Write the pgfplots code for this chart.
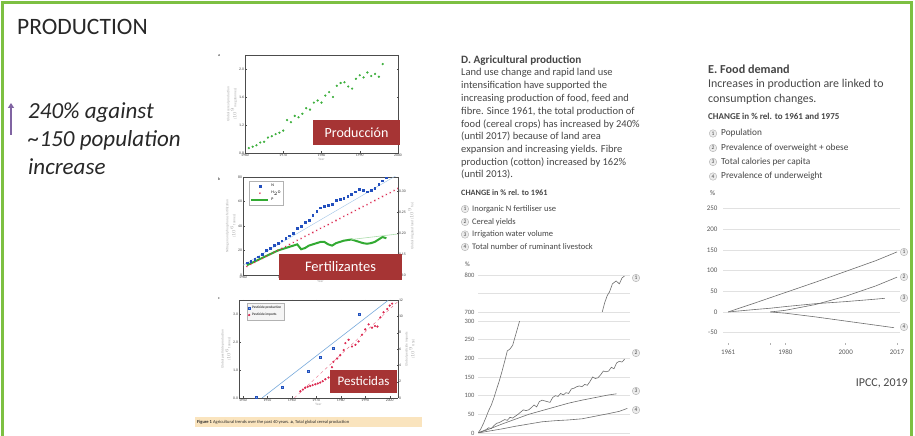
\documentclass[border=0pt]{standalone}
\usepackage{pgfplots}
\pgfplotsset{compat=1.18}
\usepackage{fontspec}
\setmainfont{Carlito}
\usetikzlibrary{arrows.meta}
\definecolor{frame}{RGB}{125,192,66}
\definecolor{arrowpurple}{RGB}{128,100,162}
\definecolor{labelred}{RGB}{166,52,52}
\definecolor{ptgreen}{RGB}{60,175,60}
\definecolor{nblue}{RGB}{35,80,190}
\definecolor{irrred}{RGB}{220,40,80}
\definecolor{pgreen}{RGB}{50,170,50}
\definecolor{lineblue}{RGB}{120,170,220}
\definecolor{txt}{RGB}{40,40,40}
\definecolor{ipcctxt}{RGB}{70,70,70}
\definecolor{ipccline}{RGB}{110,110,110}
\definecolor{ipccgrid}{RGB}{225,225,225}
\definecolor{capbg}{RGB}{250,228,190}

\pgfplotsset{
  every axis/.append style={/pgf/number format/assume math mode=true},
  tilman/.style={scale only axis, anchor=south west,
    axis line style={gray!60!black, line width=0.35pt},
    tick style={gray!60!black, line width=0.3pt},
    major tick length=1.5pt, tick align=inside,
    ticklabel style={font=\fontsize{3.8}{4}\selectfont, text=gray!50!black, inner sep=0.8pt},
    label style={font=\fontsize{3.5}{4}\selectfont, text=gray!70},
    /pgf/number format/1000 sep={},
    scaled ticks=false,
    xlabel={Year}, xlabel style={yshift=3pt},
    ylabel style={align=center},
    ylabel shift=-2pt,
  },
  ipcc/.style={scale only axis, anchor=south west,
    axis line style={draw=none},
    ymajorgrids, grid style={ipccgrid, line width=0.6pt},
    ytick style={draw=none},
    ticklabel style={font=\fontsize{6.5}{7}\selectfont, text=gray!70!black},
    /pgf/number format/1000 sep={},
    scaled ticks=false,
  },
}
\tikzset{num/.style={circle, draw=gray!60, fill=gray!15, inner sep=0pt, minimum size=7.5pt, font=\fontsize{5.5}{6}\selectfont, text=ipcctxt}}

\begin{document}
\begin{tikzpicture}[x=1pt,y=1pt]
\path[use as bounding box] (0,0) rectangle (915,436);
\fill[white] (0,0) rectangle (915,436);
% frame
\draw[frame, line width=3pt] (2.5,-5) -- (2.5,433.5) -- (911.5,433.5) -- (911.5,-5);

% left text
\node[anchor=base west, inner sep=0, font=\fontsize{23.5}{27}\selectfont, text=txt] at (17,401) {PRODUCTION};
\draw[arrowpurple, line width=2pt, -{Triangle[length=5pt,width=6pt]}] (11,301) -- (11,333);
\node[anchor=base west, inner sep=0, font=\fontsize{23}{27}\selectfont\itshape, text=txt] at (28,317) {240\% against};
\node[anchor=base west, inner sep=0, font=\fontsize{23}{27}\selectfont\itshape, text=txt] at (28,289) {\textasciitilde150 population};
\node[anchor=base west, inner sep=0, font=\fontsize{23}{27}\selectfont\itshape, text=txt] at (28,261) {increase};

% ===== Panel a =====
\begin{axis}[tilman, at={(245pt,283pt)}, width=153pt, height=98pt,
  xmin=1960, xmax=2000, ymin=0.8, ymax=2.2,
  xtick={1960,1970,1980,1990,2000}, ytick={0.8,1.2,1.6,2.0},
  yticklabel style={/pgf/number format/.cd, fixed, fixed zerofill, precision=1},
  ylabel={Global cereal production\\($10^9$ megatonnes)}]
\addplot[only marks, mark=*, mark size=0.9pt, ptgreen] coordinates {
(1961,0.87) (1962,0.89) (1963,0.91) (1964,0.95) (1965,0.96) (1966,1.02) (1967,1.04) (1968,1.07)
(1969,1.09) (1970,1.12) (1971,1.27) (1972,1.24) (1973,1.33) (1974,1.31) (1975,1.36) (1976,1.44)
(1977,1.42) (1978,1.52) (1979,1.55) (1980,1.52) (1981,1.62) (1982,1.67) (1983,1.60) (1984,1.76)
(1985,1.80) (1986,1.81) (1987,1.75) (1988,1.72) (1989,1.86) (1990,1.91) (1991,1.88) (1992,1.95)
(1993,1.90) (1994,1.93) (1995,1.89) (1996,2.07)};
\end{axis}
\node[font=\fontsize{4}{4}\selectfont\bfseries, text=gray!70!black] at (219,380) {a};

% ===== Panel b =====
\begin{axis}[tilman, at={(243pt,161pt)}, width=155pt, height=98pt,
  xmin=1960, xmax=2000, ymin=0, ymax=80, axis y line*=left,
  xtick={1960,1970,1980,1990,2000}, ytick={0,20,40,60,80},
  ylabel={Nitrogen and phosphorus fertilization\\($10^6$ tonnes)},
  legend style={at={(0.04,0.96)}, anchor=north west, font=\fontsize{4}{4.5}\selectfont, draw=gray!60, inner sep=1pt, row sep=-1pt},
  legend cell align=left]
\addplot[only marks, mark=square*, mark size=0.9pt, nblue] coordinates {
(1961,10) (1962,11.5) (1963,13) (1964,15) (1965,17) (1966,20) (1967,22) (1968,24) (1969,26) (1970,28)
(1971,30) (1972,32) (1973,34) (1974,38) (1975,40) (1976,43) (1977,45) (1978,49) (1979,52) (1980,55)
(1981,56) (1982,57) (1983,58) (1984,61) (1985,62) (1986,63) (1987,64) (1988,66) (1989,68) (1990,70)
(1991,69) (1992,68) (1993,69) (1994,71) (1995,74) (1996,77) (1997,79.5)};
\addlegendentry{N}
\addplot[only marks, mark=x, mark size=0.9pt, irrred] coordinates {
(1961,7) (1962,8.6) (1963,10.3) (1964,11.9) (1965,13.5) (1966,15.2) (1967,16.8) (1968,18.4) (1969,20.1) (1970,21.7)
(1971,23.3) (1972,24.9) (1973,26.6) (1974,28.2) (1975,29.8) (1976,31.5) (1977,33.1) (1978,34.7) (1979,36.4) (1980,38.0)
(1981,39.6) (1982,41.2) (1983,42.9) (1984,44.5) (1985,46.1) (1986,47.8) (1987,49.4) (1988,51.0) (1989,52.7) (1990,54.3)
(1991,55.9) (1992,57.5) (1993,59.2) (1994,60.8) (1995,62.4) (1996,64.1) (1997,65.7) (1998,67.3) (1999,69.0) (2000,70.6)};
\addlegendentry{H$_2$O}
\addplot[pgreen, line width=2pt] coordinates {
(1961,8) (1962,9.5) (1963,11) (1964,12.5) (1965,14) (1966,15.5) (1967,17) (1968,18.5) (1969,20) (1970,21)
(1971,22) (1972,23) (1973,24) (1974,25) (1975,21) (1976,22) (1977,24) (1978,25) (1979,26) (1980,27)
(1981,27) (1982,25) (1983,24) (1984,26) (1985,27) (1986,28) (1987,28.5) (1988,29) (1989,28) (1990,27)
(1991,26) (1992,25.5) (1993,26) (1994,27) (1995,29) (1996,31) (1997,30)};
\addlegendentry{P}
\addplot[lineblue!70, line width=0.4pt, forget plot] coordinates {(1960,8) (2000,82)};
\addplot[pgreen!40, line width=0.6pt, forget plot] coordinates {(1988,29) (2000,33.5)};
\end{axis}
\begin{axis}[tilman, at={(243pt,161pt)}, width=155pt, height=98pt,
  xmin=1960, xmax=2000, ymin=0.1, ymax=0.333, axis y line*=right, axis x line=none, xlabel={},
  ytick={0.10,0.15,0.20,0.25,0.30},
  yticklabel style={/pgf/number format/.cd, fixed, fixed zerofill, precision=2},
  ylabel={Global irrigated land ($10^9$ ha)}]
\addplot[draw=none] coordinates {(1960,0.1)};
\end{axis}
\node[font=\fontsize{4}{4}\selectfont\bfseries, text=gray!70!black] at (219,257) {b};

% ===== Panel c =====
\begin{axis}[tilman, at={(239pt,38pt)}, width=159pt, height=98pt,
  xmin=1938.4, xmax=2003.4, ymin=0, ymax=3.5, axis y line*=left,
  xtick={1940,1950,1960,1970,1980,1990,2000}, ytick={0,1,2,3},
  yticklabel style={/pgf/number format/.cd, fixed, fixed zerofill, precision=1},
  ylabel={Global pesticide production\\($10^6$ tonnes)},
  legend style={at={(0.05,0.97)}, anchor=north west, font=\fontsize{3.5}{4}\selectfont, draw=gray!60, fill=gray!8, inner sep=1pt, row sep=-1pt},
  legend cell align=left]
\addplot[only marks, mark=square*, mark size=1pt, nblue, mark options={fill=lineblue}] coordinates {
(1945.5,0.02) (1956,0.37) (1966.6,0.94) (1971.4,1.46) (1976.8,1.77) (1987.5,3.0)};
\addlegendentry{Pesticide production}
\addplot[only marks, mark=*, mark size=0.9pt, irrred] coordinates {
(1963.5,0.24) (1964.5,0.30) (1965.5,0.37) (1966.5,0.40) (1967.5,0.43) (1968.5,0.46) (1969.6,0.49) (1970.6,0.52)
(1971.6,0.55) (1972.6,0.60) (1973.7,0.67) (1975,0.73) (1976.4,1.1) (1977,1.29) (1978.5,1.41) (1979.8,1.53)
(1981.2,1.71) (1981.9,1.96) (1983.2,2.08) (1984.6,1.84) (1986,1.9) (1987.3,2.02) (1988.7,2.26) (1990,2.45)
(1991.4,2.63) (1992.8,2.51) (1994,2.57) (1995,2.55) (1996.2,2.88) (1997.5,3.06) (1999,3.18) (2000,3.3) (2001,3.37)};
\addlegendentry{Pesticide imports}
\addplot[lineblue, line width=0.6pt, forget plot] coordinates {(1947.8,0) (1999.4,3.49)};
\addplot[irrred!70, dashed, line width=0.4pt, forget plot] coordinates {(1961,0) (2003.4,3.45)};
\end{axis}
\begin{axis}[tilman, at={(239pt,38pt)}, width=159pt, height=98pt,
  xmin=1938.4, xmax=2003.4, ymin=0, ymax=12, axis y line*=right, axis x line=none, xlabel={},
  ytick={0,2,4,6,8,10,12},
  ylabel={Global pesticide imports\\($10^9$ US\$)}]
\addplot[draw=none] coordinates {(1960,0)};
\end{axis}
\node[font=\fontsize{4}{4}\selectfont\bfseries, text=gray!70!black] at (219,137) {c};

% caption bar
\fill[capbg] (195,9) rectangle (422,19);
\node[anchor=west, inner sep=0, font=\fontsize{4.5}{5}\selectfont, text=txt] at (197,14) {\textbf{Figure 1} Agricultural trends over the past 40 years. \textbf{a}, Total global cereal production};

% red labels
\node[fill=labelred, text=white, minimum width=87pt, minimum height=25pt, inner sep=0, font=\fontsize{14}{16}\selectfont] at (356.5,303.5) {Producción};
\node[fill=labelred, text=white, minimum width=123pt, minimum height=26pt, inner sep=0, font=\fontsize{14.5}{16}\selectfont] at (340.5,169) {Fertilizantes};
\node[fill=labelred, text=white, minimum width=67pt, minimum height=23pt, inner sep=0, font=\fontsize{13}{15}\selectfont] at (363.5,54.5) {Pesticidas};

% ===== Panel D text =====
\begin{scope}[every node/.style={anchor=base west, inner sep=0, text=ipcctxt}]
\node[font=\fontsize{11.2}{12}\selectfont\bfseries] at (461,372) {D. Agricultural production};
\node[font=\fontsize{10.5}{12}\selectfont] at (461,360) {Land use change and rapid land use};
\node[font=\fontsize{10.5}{12}\selectfont] at (461,347) {intensification have supported the};
\node[font=\fontsize{10.5}{12}\selectfont] at (461,334) {increasing production of food, feed and};
\node[font=\fontsize{10.5}{12}\selectfont] at (461,321) {fibre. Since 1961, the total production of};
\node[font=\fontsize{10.5}{12}\selectfont] at (461,308.5) {food (cereal crops) has increased by 240\%};
\node[font=\fontsize{10.5}{12}\selectfont] at (461,296) {(until 2017) because of land area};
\node[font=\fontsize{10.5}{12}\selectfont] at (461,283) {expansion and increasing yields. Fibre};
\node[font=\fontsize{10.5}{12}\selectfont] at (461,270) {production (cotton) increased by 162\%};
\node[font=\fontsize{10.5}{12}\selectfont] at (461,258) {(until 2013).};
\node[font=\fontsize{8.2}{9}\selectfont\bfseries] at (461,240) {CHANGE in \% rel. to 1961};
\node[font=\fontsize{8.5}{9}\selectfont] at (472,224.5) {Inorganic N fertiliser use};
\node[font=\fontsize{8.5}{9}\selectfont] at (472,211.5) {Cereal yields};
\node[font=\fontsize{8.5}{9}\selectfont] at (472,199) {Irrigation water volume};
\node[font=\fontsize{8.5}{9}\selectfont] at (472,186.5) {Total number of ruminant livestock};
\node[font=\fontsize{6.5}{7}\selectfont] at (465,169) {\%};
\end{scope}
\node[num] at (465,227) {1};
\node[num] at (465,214) {2};
\node[num] at (465,201.5) {3};
\node[num] at (465,189) {4};

% D upper axis
\begin{axis}[ipcc, at={(478pt,124pt)}, width=152pt, height=37pt,
  xmin=1961, xmax=2018, ymin=700, ymax=800, ytick={700,750,800}, yticklabels={700,,800}, xtick=\empty]
\addplot[ipccline, line width=0.6pt] coordinates {(2007.2,690) (2007.6,700) (2008.5,725) (2009.5,745) (2010.3,754) (2011.4,776) (2012.8,784) (2014,776) (2015,792) (2015.9,797)};
\end{axis}
% D lower axis
\begin{axis}[ipcc, at={(478pt,3pt)}, width=152pt, height=112pt,
  xmin=1961, xmax=2018, ymin=0, ymax=300, ytick={0,50,100,150,200,250,300}, xtick=\empty]
\addplot[ipccline, line width=0.6pt] coordinates {(1961,0) (1962,10) (1963,25) (1964,42) (1965,60) (1966,75) (1967,95) (1968,118) (1969,140) (1970,165) (1971,192) (1972,220) (1973,225) (1974,235) (1975,260) (1976,285) (1977,310)};
\addplot[ipccline, line width=0.6pt] coordinates {(1961,0) (1962,3) (1963,6) (1964,9) (1965,14) (1966,12) (1967,20) (1968,26) (1969,28) (1970,32) (1971,36) (1972,34) (1973,42) (1974,40) (1975,45) (1976,50) (1977,56) (1978,62) (1979,60) (1980,62) (1981,68) (1982,75) (1983,70) (1984,84) (1985,88) (1986,86) (1987,84) (1988,82) (1989,95) (1990,100) (1991,98) (1992,106) (1993,102) (1994,108) (1995,106) (1996,118) (1997,120) (1998,124) (1999,126) (2000,124) (2001,130) (2002,128) (2003,138) (2004,150) (2005,146) (2006,148) (2007,156) (2008,166) (2009,164) (2010,166) (2011,176) (2012,172) (2013,188) (2014,192) (2015,190) (2016,198)};
\addplot[ipccline, line width=0.6pt] coordinates {(1961,0) (1965,10) (1970,24) (1975,37) (1980,50) (1985,60) (1990,70) (1995,80) (2000,88) (2005,95) (2010,102) (2013,105)};
\addplot[ipccline, line width=0.6pt] coordinates {(1961,0) (1965,5) (1970,11) (1975,18) (1980,24) (1985,30) (1990,33) (1995,35) (2000,38) (2005,45) (2010,52) (2014,58) (2017,66)};
\end{axis}
\node[num] at (636,158) {1};
\node[num] at (636,83) {2};
\node[num] at (636,45) {3};
\node[num] at (636,26) {4};

% ===== Panel E text =====
\begin{scope}[every node/.style={anchor=base west, inner sep=0, text=ipcctxt}]
\node[font=\fontsize{12.2}{13}\selectfont\bfseries] at (708,362) {E. Food demand};
\node[font=\fontsize{11.9}{13}\selectfont] at (708,348) {Increases in production are linked to};
\node[font=\fontsize{11.9}{13}\selectfont] at (708,333.5) {consumption changes.};
\node[font=\fontsize{9}{10}\selectfont\bfseries] at (708,316.5) {CHANGE in \% rel. to 1961 and 1975};
\node[font=\fontsize{9.3}{10}\selectfont] at (721,300) {Population};
\node[font=\fontsize{9.3}{10}\selectfont] at (721,285.5) {Prevalence of overweight + obese};
\node[font=\fontsize{9.3}{10}\selectfont] at (721,271.5) {Total calories per capita};
\node[font=\fontsize{9.3}{10}\selectfont] at (721,257) {Prevalence of underweight};
\node[font=\fontsize{7}{8}\selectfont] at (710,240) {\%};
\end{scope}
\node[num] at (713,302.5) {1};
\node[num] at (713,288) {2};
\node[num] at (713,274) {3};
\node[num] at (713,259.5) {4};

\begin{axis}[ipcc, at={(723pt,93pt)}, width=177pt, height=139.5pt,
  xmin=1959.3, xmax=2018, ymin=-75, ymax=262,
  ytick={-50,0,50,100,150,200,250},
  xtick={1961,1975,1980,2000,2017}, xticklabels={1961,,1980,2000,2017},
  xtick pos=bottom, xtick style={gray!60, line width=0.5pt}, tick align=outside, major tick length=2pt,
  ticklabel style={font=\fontsize{7}{8}\selectfont, text=gray!70!black},
  xticklabel style={yshift=-1pt}]
\addplot[ipccline, line width=0.6pt] coordinates {(1961,0) (1970,22) (1980,47) (1990,72) (2000,98) (2010,124) (2017,145)};
\addplot[ipccline, line width=0.6pt] coordinates {(1975,0) (1980,4) (1990,18) (2000,38) (2010,63) (2017,84)};
\addplot[ipccline, line width=0.6pt] coordinates {(1961,0) (1970,6) (1975,9) (1980,13) (1990,20) (2000,25) (2010,31) (2013,33)};
\addplot[ipccline, line width=0.6pt] coordinates {(1975,0) (1980,-3) (1990,-12) (2000,-22) (2010,-32) (2016,-38)};
\end{axis}
\node[num] at (904,184) {1};
\node[num] at (904,159) {2};
\node[num] at (904,138) {3};
\node[num] at (904,109) {4};

\node[anchor=base east, inner sep=0, font=\fontsize{12}{14}\selectfont, text=ipcctxt] at (908,49) {IPCC, 2019};
\end{tikzpicture}
\end{document}
